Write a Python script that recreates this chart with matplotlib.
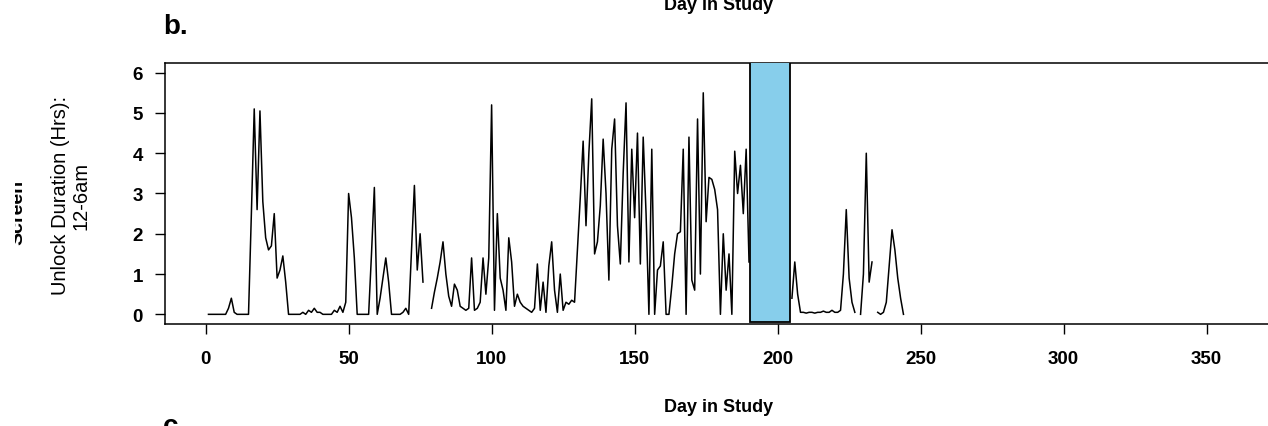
import numpy as np
import matplotlib
matplotlib.use('Agg')
import matplotlib.pyplot as plt
from matplotlib.patches import Rectangle
from matplotlib.transforms import Bbox

plt.rcParams['font.family'] = ['Liberation Sans', 'DejaVu Sans']

nan = np.nan

# nightly (12-6am) unlock duration in hours, one value per study day from day 1
unlock_hrs = [
    0, 0, 0, 0, 0, 0, 0, 0.15, 0.4, 0.05,
    0, 0, 0, 0, 0, 2.5, 5.1, 2.6, 5.05, 2.8,
    1.9, 1.6, 1.7, 2.5, 0.9, 1.1, 1.45, 0.8, 0, 0,
    0, 0, 0, 0.05, 0, 0.1, 0.05, 0.15, 0.05, 0.05,
    0, 0, 0, 0, 0.1, 0.05, 0.2, 0.05, 0.3, 3.0,
    2.4, 1.4, 0, 0, 0, 0, 0, 1.5, 3.15, 0,
    0.4, 0.9, 1.4, 0.8, 0, 0, 0, 0, 0.05, 0.15,
    0, 1.6, 3.2, 1.1, 2.0, 0.8, nan, nan, 0.15, 0.55,
    0.9, 1.3, 1.8, 1.0, 0.45, 0.2, 0.75, 0.6, 0.2, 0.15,
    0.1, 0.15, 1.4, 0.1, 0.15, 0.3, 1.4, 0.5, 1.4, 5.2,
    0.1, 2.5, 0.9, 0.6, 0.1, 1.9, 1.3, 0.2, 0.5, 0.3,
    0.2, 0.15, 0.1, 0.05, 0.15, 1.25, 0.1, 0.8, 0.05, 1.2,
    1.8, 0.6, 0.05, 1.0, 0.1, 0.3, 0.25, 0.35, 0.3, 1.6,
    2.9, 4.3, 2.2, 4.0, 5.35, 1.5, 1.8, 2.7, 4.35, 3.0,
    0.85, 4.1, 4.85, 2.2, 1.25, 3.5, 5.25, 1.3, 4.1, 2.4,
    4.5, 1.25, 4.4, 2.5, 0.0, 4.1, 0.0, 1.1, 1.2, 1.8,
    0.0, 0.0, 0.7, 1.5, 2.0, 2.05, 4.1, 0.0, 4.4, 0.85,
    0.6, 4.85, 1.0, 5.5, 2.3, 3.4, 3.35, 3.1, 2.6, 0.0,
    2.0, 0.6, 1.5, 0.0, 4.05, 3.0, 3.7, 2.5, 4.1, 1.3,
    nan, nan, nan, nan, nan, nan, nan, nan, nan, nan,
    nan, nan, nan, nan, 0.4, 1.3, 0.5, 0.05, 0.05, 0.03,
    0.05, 0.05, 0.03, 0.05, 0.05, 0.08, 0.05, 0.05, 0.1, 0.05,
    0.05, 0.1, 1.0, 2.6, 0.9, 0.3, 0.05, nan, 0.0, 1.0,
    4.0, 0.8, 1.3, nan, 0.05, 0.0, 0.05, 0.3, 1.2, 2.1,
    1.6, 0.9, 0.4, 0.0,
]
days = np.arange(1, len(unlock_hrs) + 1)

# shaded break in the study
break_start = 190.5
break_end = 204.3

x_ticks = [0, 50, 100, 150, 200, 250, 300, 350]
y_ticks = [0, 1, 2, 3, 4, 5, 6]

W, H = 1268, 427
fig = plt.figure(figsize=(W / 100, H / 100), dpi=100)
ax = fig.add_axes([165 / W, 1 - 325 / H, (1291 - 165) / W, 261 / H])

ax.plot(days, unlock_hrs, color='black', lw=1.1, zorder=2)
ax.add_patch(Rectangle((break_start, -0.2), break_end - break_start, 10,
                       facecolor='#87CEEB', edgecolor='black', lw=1.3, zorder=3))

ax.set_xlim(-14.2, 379.5)
ax.set_ylim(-0.24, 6.24)
ax.set_xticks(x_ticks)
ax.set_yticks(y_ticks)
ax.tick_params(direction='out', length=7, width=1, labelsize=13.5, color='black')
ax.tick_params(axis='x', pad=12)
ax.tick_params(axis='y', pad=9)
for lab in ax.get_xticklabels() + ax.get_yticklabels():
    lab.set_fontweight('bold')
for sp in ax.spines.values():
    sp.set_linewidth(1.1)
    sp.set_color('black')

# axis titles
fig.text(719 / W, 1 - 408 / H, 'Day in Study', ha='center', va='center',
         fontsize=13, fontweight='bold')
fig.text(719 / W, 1 - 5 / H, 'Day in Study', ha='center', va='center',
         fontsize=13, fontweight='bold')
fig.text(60 / W, 1 - 195 / H, 'Unlock Duration (Hrs):', rotation=90,
         ha='center', va='center', fontsize=14.5)
fig.text(81 / W, 1 - 196 / H, '12-6am', rotation=90,
         ha='center', va='center', fontsize=14.5)
scr = fig.text(18 / W, 1 - 212 / H, 'Screen', rotation=90,
               ha='center', va='center', fontsize=14, fontweight='bold')
scr.set_clip_box(Bbox.from_extents(15, 0, 23, H))
scr.set_clip_on(True)

# panel letters
fig.text(163 / W, 1 - 14 / H, 'b.', ha='left', va='top', fontsize=20, fontweight='bold')
fig.text(163 / W, 1 - 414 / H, 'c.', ha='left', va='top', fontsize=20, fontweight='bold')

fig.savefig('out.png', dpi=100)
